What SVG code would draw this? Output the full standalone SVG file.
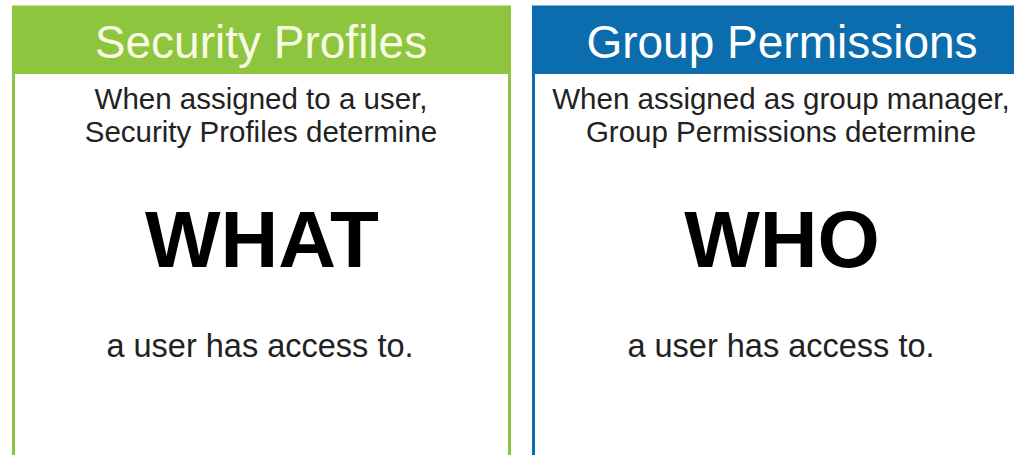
<svg xmlns="http://www.w3.org/2000/svg" width="1014" height="455" viewBox="0 0 1014 455">
<style>
text{font-family:"Liberation Sans",Arial,sans-serif;text-anchor:middle}
.title{font-size:46px}
.body{font-size:29.5px;fill:#222}
.big{font-size:80px;font-weight:bold;fill:#000}
.foot{font-size:32.5px;fill:#222}
</style>
<rect width="1014" height="455" fill="#fff"/>
<g id="security-profiles">
<rect x="13.5" y="7" width="496" height="452" fill="#fff" stroke="#8dc53f" stroke-width="3"/>
<rect x="12" y="6" width="499" height="68" fill="#8dc53f"/>
<text class="title" x="261" y="58" fill="#f6fbe2">Security Profiles</text>
<text class="body" x="261" y="109">When assigned to a user,</text>
<text class="body" x="261" y="142">Security Profiles determine</text>
<text class="big" x="262" y="267">WHAT</text>
<text class="foot" x="260" y="357">a user has access to.</text>
</g>
<g id="group-permissions">
<rect x="533.5" y="7" width="490" height="452" fill="#fff" stroke="#0b6dae" stroke-width="3"/>
<rect x="532" y="6" width="490" height="68" fill="#0b6dae"/>
<text class="title" x="782" y="58" fill="#fff">Group Permissions</text>
<text class="body" x="781" y="109">When assigned as group manager,</text>
<text class="body" x="781" y="142">Group Permissions determine</text>
<text class="big" x="782" y="267">WHO</text>
<text class="foot" x="781" y="357">a user has access to.</text>
</g>
<g id="connectors"/>
</svg>
